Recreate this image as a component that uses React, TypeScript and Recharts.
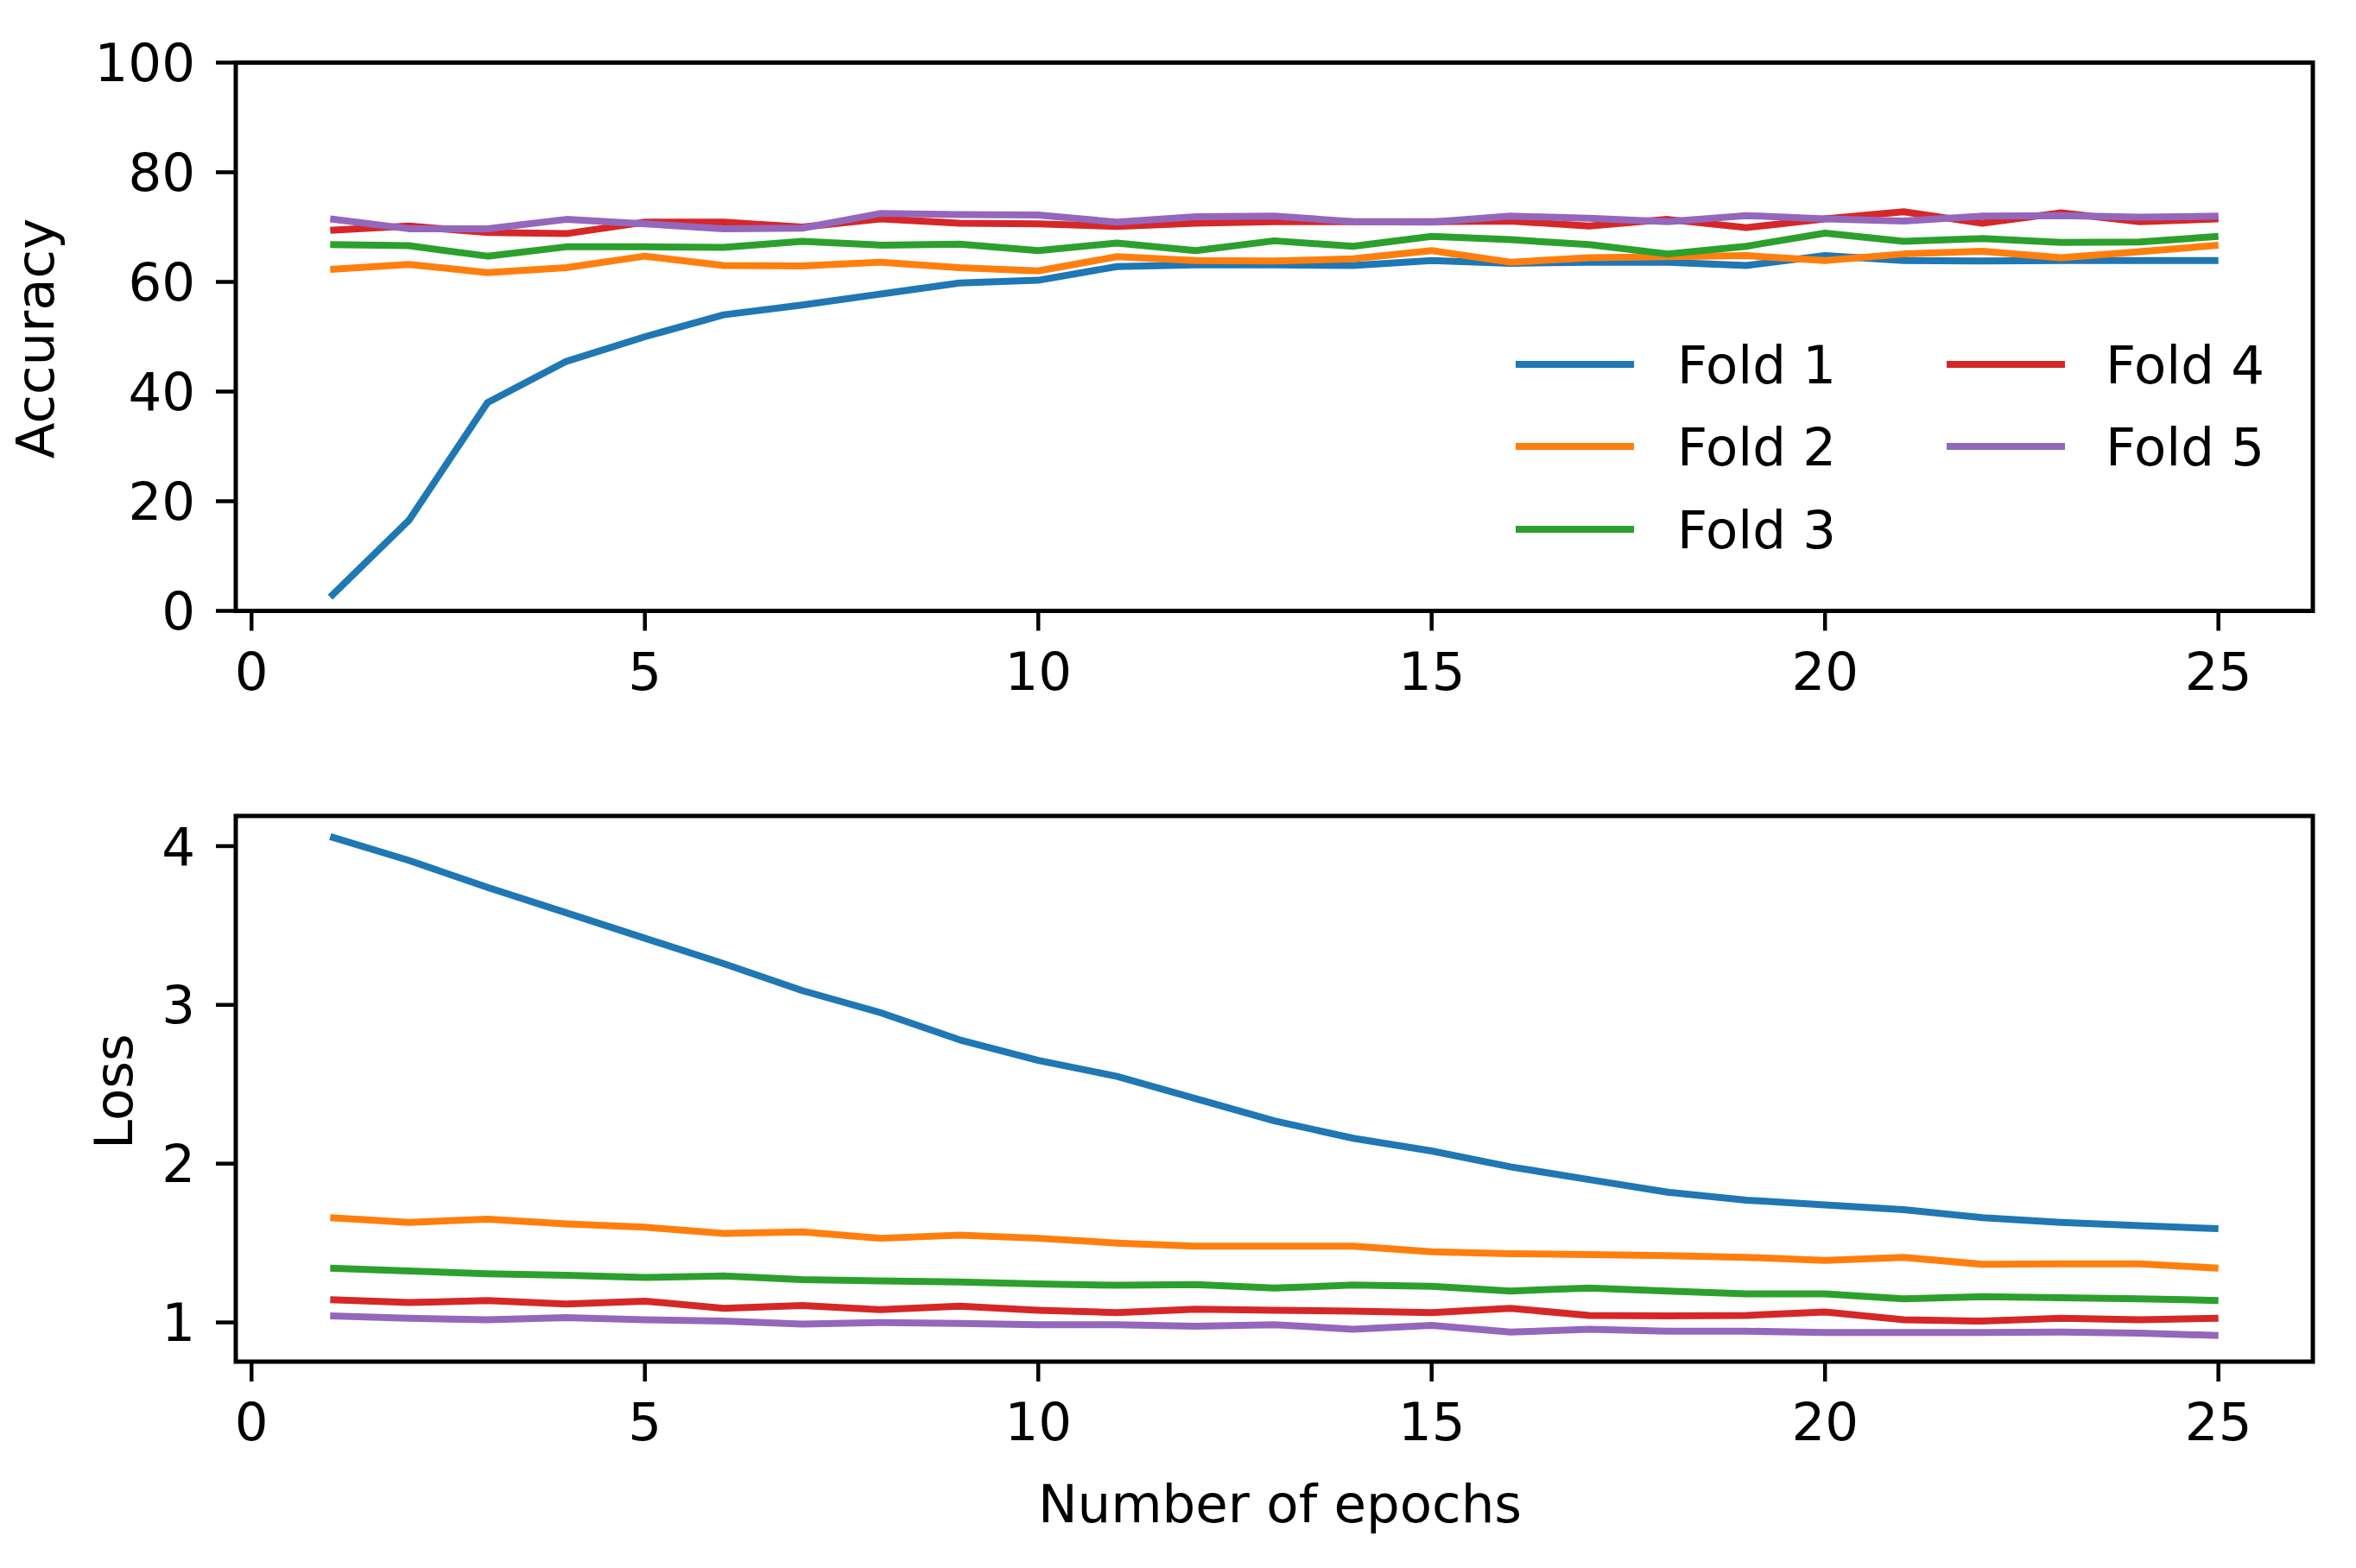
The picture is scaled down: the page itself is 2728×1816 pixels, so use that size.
import React from "react";
import {
  LineChart,
  Line,
  XAxis,
  YAxis,
  ReferenceArea,
  Legend,
} from "recharts";

const epochs = [1, 2, 3, 4, 5, 6, 7, 8, 9, 10, 11, 12, 13, 14, 15, 16, 17, 18, 19, 20, 21, 22, 23, 24, 25];
const xTicks = [0, 5, 10, 15, 20, 25];
const accTicks = [0, 20, 40, 60, 80, 100];
const lossTicks = [1, 2, 3, 4];

const foldNames = ["Fold 1", "Fold 2", "Fold 3", "Fold 4", "Fold 5"];
const foldColors = ["#1f77b4", "#ff7f0e", "#2ca02c", "#d62728", "#9467bd"];

const accFold1 = [2.5, 16.5, 38, 45.5, 50, 54, 55.8, 57.8, 59.8, 60.3, 62.8, 63.1, 63.1, 63.0, 63.9, 63.4, 63.6, 63.6, 63.0, 64.8, 63.9, 63.8, 63.9, 63.9, 63.9];
const accFold2 = [62.3, 63.2, 61.7, 62.6, 64.7, 63.0, 62.9, 63.6, 62.6, 62.0, 64.6, 63.9, 63.8, 64.2, 65.7, 63.6, 64.4, 64.6, 64.8, 63.9, 65.1, 65.6, 64.4, 65.5, 66.7];
const accFold3 = [66.8, 66.6, 64.7, 66.4, 66.4, 66.3, 67.4, 66.7, 66.9, 65.7, 67.1, 65.7, 67.5, 66.5, 68.3, 67.7, 66.8, 65.1, 66.5, 68.9, 67.4, 67.9, 67.2, 67.3, 68.3];
const accFold4 = [69.4, 70.2, 69.0, 68.8, 70.9, 70.9, 70.0, 71.5, 70.7, 70.6, 70.1, 70.7, 71.0, 71.0, 71.0, 71.1, 70.2, 71.4, 69.9, 71.5, 72.8, 70.7, 72.6, 71.0, 71.5];
const accFold5 = [71.5, 69.7, 69.7, 71.4, 70.6, 69.7, 69.8, 72.5, 72.3, 72.2, 70.9, 71.9, 72.0, 71.0, 70.9, 72.0, 71.6, 71.0, 72.1, 71.5, 71.1, 72.0, 72.1, 71.8, 72.0];

const lossFold1 = [4.06, 3.91, 3.74, 3.58, 3.42, 3.26, 3.09, 2.95, 2.78, 2.65, 2.55, 2.41, 2.27, 2.16, 2.08, 1.98, 1.9, 1.82, 1.77, 1.74, 1.71, 1.66, 1.63, 1.61, 1.59];
const lossFold2 = [1.66, 1.63, 1.65, 1.62, 1.6, 1.56, 1.57, 1.53, 1.55, 1.53, 1.5, 1.48, 1.48, 1.48, 1.445, 1.433, 1.427, 1.42, 1.41, 1.39, 1.41, 1.366, 1.369, 1.369, 1.342];
const lossFold3 = [1.342, 1.324, 1.306, 1.297, 1.283, 1.293, 1.27, 1.261, 1.255, 1.243, 1.234, 1.239, 1.216, 1.235, 1.228, 1.198, 1.216, 1.198, 1.18, 1.18, 1.149, 1.162, 1.156, 1.149, 1.138];
const lossFold4 = [1.143, 1.125, 1.138, 1.116, 1.134, 1.089, 1.107, 1.08, 1.102, 1.077, 1.062, 1.084, 1.077, 1.071, 1.062, 1.089, 1.044, 1.041, 1.044, 1.066, 1.017, 1.008, 1.026, 1.017, 1.026];
const lossFold5 = [1.041, 1.026, 1.017, 1.03, 1.017, 1.008, 0.99, 0.999, 0.994, 0.986, 0.986, 0.976, 0.986, 0.957, 0.981, 0.939, 0.957, 0.945, 0.945, 0.936, 0.936, 0.936, 0.939, 0.932, 0.918];

const accRows = epochs.map((epoch, i) => ({
  epoch,
  f1: accFold1[i],
  f2: accFold2[i],
  f3: accFold3[i],
  f4: accFold4[i],
  f5: accFold5[i],
}));

const lossRows = epochs.map((epoch, i) => ({
  epoch,
  f1: lossFold1[i],
  f2: lossFold2[i],
  f3: lossFold3[i],
  f4: lossFold4[i],
  f5: lossFold5[i],
}));

const FONT = "DejaVu Sans";
const FS = 61;
const X_DOMAIN: [number, number] = [-0.2, 26.2];
const keys = ["f1", "f2", "f3", "f4", "f5"];

const tickStyle = { fontSize: FS, fill: "#000", fontFamily: FONT };
const tickLineStyle = { stroke: "#000", strokeWidth: 4.5 };

function rotatedLabel(text: string, x: number, cy: number) {
  return () => (
    <text
      x={x}
      y={cy}
      transform={`rotate(-90, ${x}, ${cy})`}
      textAnchor="middle"
      fontSize={FS}
      fontFamily={FONT}
      fill="#000"
    >
      {text}
    </text>
  );
}

function FoldLegend() {
  // two columns, filled column by column like matplotlib ncol=2
  const cols = [
    { line: 15, text: 202 },
    { line: 514, text: 698 },
  ];
  const rows = [62, 157, 253];
  return (
    <svg width={960} height={320} style={{ display: "block" }}>
      {foldNames.map((name, i) => {
        const c = cols[i < 3 ? 0 : 1];
        const y = rows[i < 3 ? i : i - 3];
        return (
          <g key={name}>
            <line
              x1={c.line}
              x2={c.line + 137}
              y1={y}
              y2={y}
              stroke={foldColors[i]}
              strokeWidth={8}
            />
            <text x={c.text} y={y + 22} fontSize={FS} fontFamily={FONT} fill="#000">
              {name}
            </text>
          </g>
        );
      })}
    </svg>
  );
}

function series() {
  return keys.map((k, i) => (
    <Line
      key={k}
      type="linear"
      dataKey={k}
      name={foldNames[i]}
      stroke={foldColors[i]}
      strokeWidth={8}
      strokeLinejoin="round"
      dot={false}
      activeDot={false}
      isAnimationActive={false}
    />
  ));
}

export default function App() {
  return (
    <div
      style={{
        position: "absolute",
        left: 0,
        top: 0,
        width: 2728,
        height: 1816,
        background: "#fff",
        fontFamily: FONT,
      }}
    >
      <div style={{ position: "absolute", left: 0, top: 0 }}>
        <LineChart
          width={2728}
          height={830}
          data={accRows}
          margin={{ top: 72.5, right: 50, bottom: 0, left: 0 }}
        >
          <XAxis
            dataKey="epoch"
            type="number"
            domain={X_DOMAIN}
            ticks={xTicks}
            interval={0}
            allowDataOverflow
            height={122.5}
            axisLine={false}
            tickLine={tickLineStyle}
            tickSize={23}
            tickMargin={25}
            tick={tickStyle}
            stroke="#000"
          />
          <YAxis
            type="number"
            domain={[0, 100]}
            ticks={accTicks}
            interval={0}
            allowDataOverflow
            width={273}
            axisLine={false}
            tickLine={tickLineStyle}
            tickSize={23}
            tickMargin={24}
            tick={tickStyle}
            stroke="#000"
            label={{ content: rotatedLabel("Accuracy", 62, 392) }}
          />
          <ReferenceArea
            x1={X_DOMAIN[0]}
            x2={X_DOMAIN[1]}
            y1={0}
            y2={100}
            fill="none"
            stroke="#000"
            strokeWidth={5}
            ifOverflow="visible"
          />
          {series()}
          <Legend
            layout="vertical"
            align="center"
            verticalAlign="middle"
            wrapperStyle={{ left: 1740, top: 360, width: 960, height: 320 }}
            content={() => <FoldLegend />}
          />
        </LineChart>
      </div>
      <div style={{ position: "absolute", left: 0, top: 830 }}>
        <LineChart
          width={2728}
          height={986}
          data={lossRows}
          margin={{ top: 115, right: 50, bottom: 0, left: 0 }}
        >
          <XAxis
            dataKey="epoch"
            type="number"
            domain={X_DOMAIN}
            ticks={xTicks}
            interval={0}
            allowDataOverflow
            height={239}
            axisLine={false}
            tickLine={tickLineStyle}
            tickSize={23}
            tickMargin={25}
            tick={tickStyle}
            stroke="#000"
            label={{
              content: () => (
                <text
                  x={1482}
                  y={933}
                  textAnchor="middle"
                  fontSize={FS}
                  fontFamily={FONT}
                  fill="#000"
                >
                  Number of epochs
                </text>
              ),
            }}
          />
          <YAxis
            type="number"
            domain={[0.753, 4.19]}
            ticks={lossTicks}
            interval={0}
            allowDataOverflow
            width={273}
            axisLine={false}
            tickLine={tickLineStyle}
            tickSize={23}
            tickMargin={24}
            tick={tickStyle}
            stroke="#000"
            label={{ content: rotatedLabel("Loss", 153, 434) }}
          />
          <ReferenceArea
            x1={X_DOMAIN[0]}
            x2={X_DOMAIN[1]}
            y1={0.753}
            y2={4.19}
            fill="none"
            stroke="#000"
            strokeWidth={5}
            ifOverflow="visible"
          />
          {series()}
        </LineChart>
      </div>
    </div>
  );
}
